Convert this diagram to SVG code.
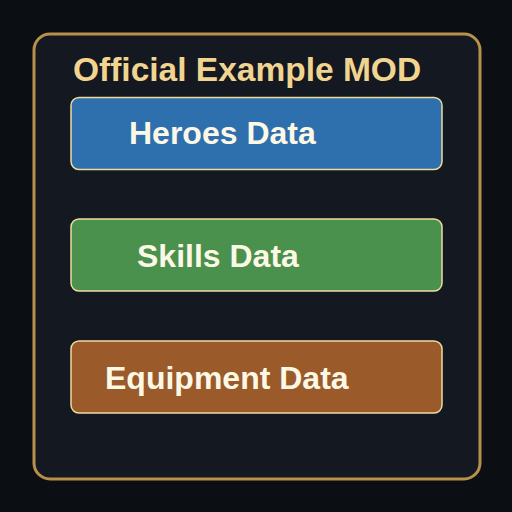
<svg xmlns="http://www.w3.org/2000/svg" width="512" height="512" viewBox="0 0 512 512">
<style>
.bg{fill:#0b0e13}
.frame{fill:#141820;stroke:#b8904a;stroke-width:3}
.box{stroke:#eedc9e;stroke-width:1.5}
.lbl{font-family:"Liberation Sans",Arial,sans-serif;font-weight:bold;font-size:32px;fill:#fdf8e6}
.title{font-family:"Liberation Sans",Arial,sans-serif;font-weight:bold;font-size:33.5px;fill:#f0d490}
</style>
<rect class="bg" x="0" y="0" width="512" height="512"/>
<g id="mod">
<rect class="frame" x="34" y="34" width="446" height="445" rx="16"/>
<text class="title" x="73" y="81">Official Example MOD</text>
</g>
<g id="heroes">
<rect class="box" x="71" y="97.5" width="371" height="72" rx="8" fill="#2e6fad"/>
<text class="lbl" x="129" y="144">Heroes Data</text>
</g>
<g id="skills">
<rect class="box" x="71" y="219" width="371" height="72" rx="8" fill="#4a914d"/>
<text class="lbl" x="137" y="267">Skills Data</text>
</g>
<g id="equipment">
<rect class="box" x="71" y="341" width="371" height="72" rx="8" fill="#9a5a2a"/>
<text class="lbl" x="105" y="389">Equipment Data</text>
</g>
<g id="connectors"></g>
</svg>
